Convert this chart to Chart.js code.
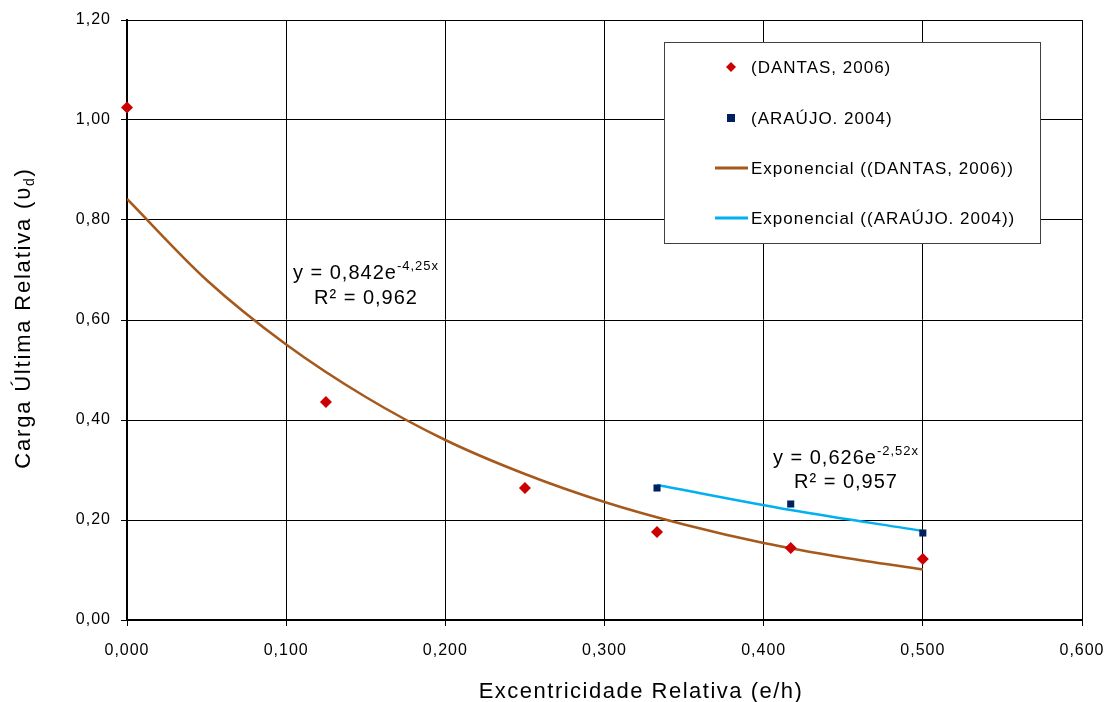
<!DOCTYPE html>
<html>
<head>
<meta charset="utf-8">
<script src="https://cdn.jsdelivr.net/npm/chart.js@4"></script>
<style>
html, body { margin: 0; padding: 0; background: #fff; }
</style>
</head>
<body>
<canvas id="chart" width="1110" height="702"></canvas>
<script>
// measured points
const dantasX = [0, 0.125, 0.25, 0.333, 0.417, 0.5];
const dantasY = [1.025, 0.436, 0.264, 0.176, 0.144, 0.122];
const araujoX = [0.333, 0.417, 0.5];
const araujoY = [0.264, 0.232, 0.174];

// trend curves
const dantasTrendX = [0, 0.05, 0.1, 0.15, 0.2, 0.25, 0.3, 0.35, 0.4, 0.45, 0.5];
const dantasTrendY = [0.842, 0.68, 0.551, 0.446, 0.36, 0.292, 0.236, 0.191, 0.154, 0.125, 0.101];
const araujoTrendX = [0.333, 0.417, 0.5];
const araujoTrendY = [0.27, 0.22, 0.178];

const xTicks = [0, 0.1, 0.2, 0.3, 0.4, 0.5, 0.6];
const yTicks = [0, 0.2, 0.4, 0.6, 0.8, 1.0, 1.2];

const labels = ['(DANTAS, 2006)', '(ARAÚJO. 2004)', 'Exponencial ((DANTAS, 2006))', 'Exponencial ((ARAÚJO. 2004))'];

const RED = '#cc0000';
const NAVY = '#002060';
const BROWN = '#a5591c';
const CYAN = '#00b0f0';
const FONT = '"Liberation Sans", Arial, sans-serif';

const pts = (xs, ys) => xs.map((x, i) => ({ x: x, y: ys[i] }));
const comma = (v, d) => v.toFixed(d).replace('.', ',');

// draws "base" followed by a superscript, centred on cx
function eqLine(ctx, cx, y, base, sup) {
    ctx.font = '20px ' + FONT;
    const w1 = ctx.measureText(base).width;
    ctx.font = '13px ' + FONT;
    const w2 = ctx.measureText(sup).width;
    let x = cx - (w1 + w2) / 2;
    ctx.font = '20px ' + FONT;
    ctx.fillText(base, x, y);
    ctx.font = '13px ' + FONT;
    ctx.fillText(sup, x + w1, y - 9);
}

const extras = {
    id: 'extras',
    beforeDraw(c) {
        // the original spreads its letters a little
        c.ctx.letterSpacing = '1px';
    },
    afterDraw(c) {
        const ctx = c.ctx;
        ctx.save();
        ctx.letterSpacing = '1px';
        ctx.fillStyle = '#000';
        ctx.textBaseline = 'alphabetic';
        ctx.textAlign = 'left';

        // trend equations
        eqLine(ctx, 366, 279, 'y = 0,842e', '-4,25x');
        ctx.font = '20px ' + FONT;
        ctx.textAlign = 'center';
        ctx.fillText('R² = 0,962', 366, 304);
        ctx.textAlign = 'left';
        eqLine(ctx, 846, 464, 'y = 0,626e', '-2,52x');
        ctx.font = '20px ' + FONT;
        ctx.textAlign = 'center';
        ctx.fillText('R² = 0,957', 846, 488);

        // legend box
        ctx.fillStyle = '#fff';
        ctx.fillRect(664, 42, 376, 201);
        ctx.strokeStyle = '#404040';
        ctx.lineWidth = 1;
        ctx.strokeRect(664.5, 42.5, 376, 201);

        const rows = [67, 118, 168, 218];
        // diamond
        ctx.fillStyle = RED;
        ctx.beginPath();
        ctx.moveTo(731, rows[0] - 5);
        ctx.lineTo(736, rows[0]);
        ctx.lineTo(731, rows[0] + 5);
        ctx.lineTo(726, rows[0]);
        ctx.closePath();
        ctx.fill();
        // square
        ctx.fillStyle = NAVY;
        ctx.fillRect(727, rows[1] - 4, 8, 8);
        // lines
        ctx.lineWidth = 3;
        ctx.strokeStyle = BROWN;
        ctx.beginPath(); ctx.moveTo(715, rows[2]); ctx.lineTo(748, rows[2]); ctx.stroke();
        ctx.strokeStyle = CYAN;
        ctx.beginPath(); ctx.moveTo(715, rows[3]); ctx.lineTo(748, rows[3]); ctx.stroke();

        ctx.fillStyle = '#000';
        ctx.font = '17px ' + FONT;
        ctx.textAlign = 'left';
        ctx.textBaseline = 'middle';
        labels.forEach((t, i) => ctx.fillText(t, 751, rows[i] + 1));

        // x axis title
        ctx.letterSpacing = '1.5px';
        ctx.font = '22px ' + FONT;
        ctx.textAlign = 'center';
        ctx.textBaseline = 'alphabetic';
        ctx.fillText('Excentricidade Relativa (e/h)', 641, 698);

        // y axis title with subscript
        ctx.letterSpacing = '1.8px';
        ctx.translate(30, 318);
        ctx.rotate(-Math.PI / 2);
        ctx.textAlign = 'left';
        const main = 'Carga Última Relativa (υ';
        ctx.font = '22px ' + FONT;
        const wm = ctx.measureText(main).width;
        const wc = ctx.measureText(')').width;
        ctx.font = '14px ' + FONT;
        const wd = ctx.measureText('d').width;
        let x = -(wm + wd + wc) / 2;
        ctx.font = '22px ' + FONT;
        ctx.fillText(main, x, 0);
        ctx.font = '14px ' + FONT;
        ctx.fillText('d', x + wm, 4);
        ctx.font = '22px ' + FONT;
        ctx.fillText(')', x + wm + wd, 0);

        ctx.restore();
    }
};

new Chart(document.querySelector('#chart'), {
    type: 'scatter',
    data: {
        datasets: [
            {
                label: labels[0],
                data: pts(dantasX, dantasY),
                pointStyle: 'rectRot',
                pointRadius: 6,
                backgroundColor: RED,
                borderColor: RED,
                borderWidth: 0,
                clip: false
            },
            {
                label: labels[1],
                data: pts(araujoX, araujoY),
                pointStyle: 'rect',
                pointRadius: 5,
                backgroundColor: NAVY,
                borderColor: NAVY,
                borderWidth: 0,
                clip: false
            },
            {
                label: labels[2],
                data: pts(dantasTrendX, dantasTrendY),
                showLine: true,
                pointRadius: 0,
                borderColor: BROWN,
                borderWidth: 2.5,
                cubicInterpolationMode: 'monotone'
            },
            {
                label: labels[3],
                data: pts(araujoTrendX, araujoTrendY),
                showLine: true,
                pointRadius: 0,
                borderColor: CYAN,
                borderWidth: 2.5,
                cubicInterpolationMode: 'monotone'
            }
        ]
    },
    options: {
        responsive: false,
        animation: false,
        layout: { padding: { top: 20, right: 28, left: 0, bottom: 0 } },
        plugins: { legend: { display: false }, tooltip: { enabled: false } },
        scales: {
            x: {
                type: 'linear',
                min: 0,
                max: 0.6,
                afterBuildTicks: s => { s.ticks = xTicks.map(v => ({ value: v })); },
                afterFit: s => {
                    s.height = 82;
                    s.paddingLeft = 0;
                    s.paddingRight = 0;
                },
                ticks: {
                    callback: v => comma(v, 3),
                    color: '#000',
                    font: { family: FONT, size: 16 },
                    padding: 15,
                    maxRotation: 0
                },
                grid: { color: '#000', lineWidth: 1, tickLength: 6, tickColor: '#000' },
                border: { color: '#000', width: 2 }
            },
            y: {
                min: 0,
                max: 1.2,
                afterBuildTicks: s => { s.ticks = yTicks.map(v => ({ value: v })); },
                afterFit: s => { s.width = 127; },
                ticks: {
                    callback: v => comma(v, 2),
                    color: '#000',
                    font: { family: FONT, size: 16 },
                    padding: 10
                },
                grid: { color: '#000', lineWidth: 1, tickLength: 6, tickColor: '#000' },
                border: { color: '#000', width: 2 }
            }
        }
    },
    plugins: [extras]
});
</script>
</body>
</html>
